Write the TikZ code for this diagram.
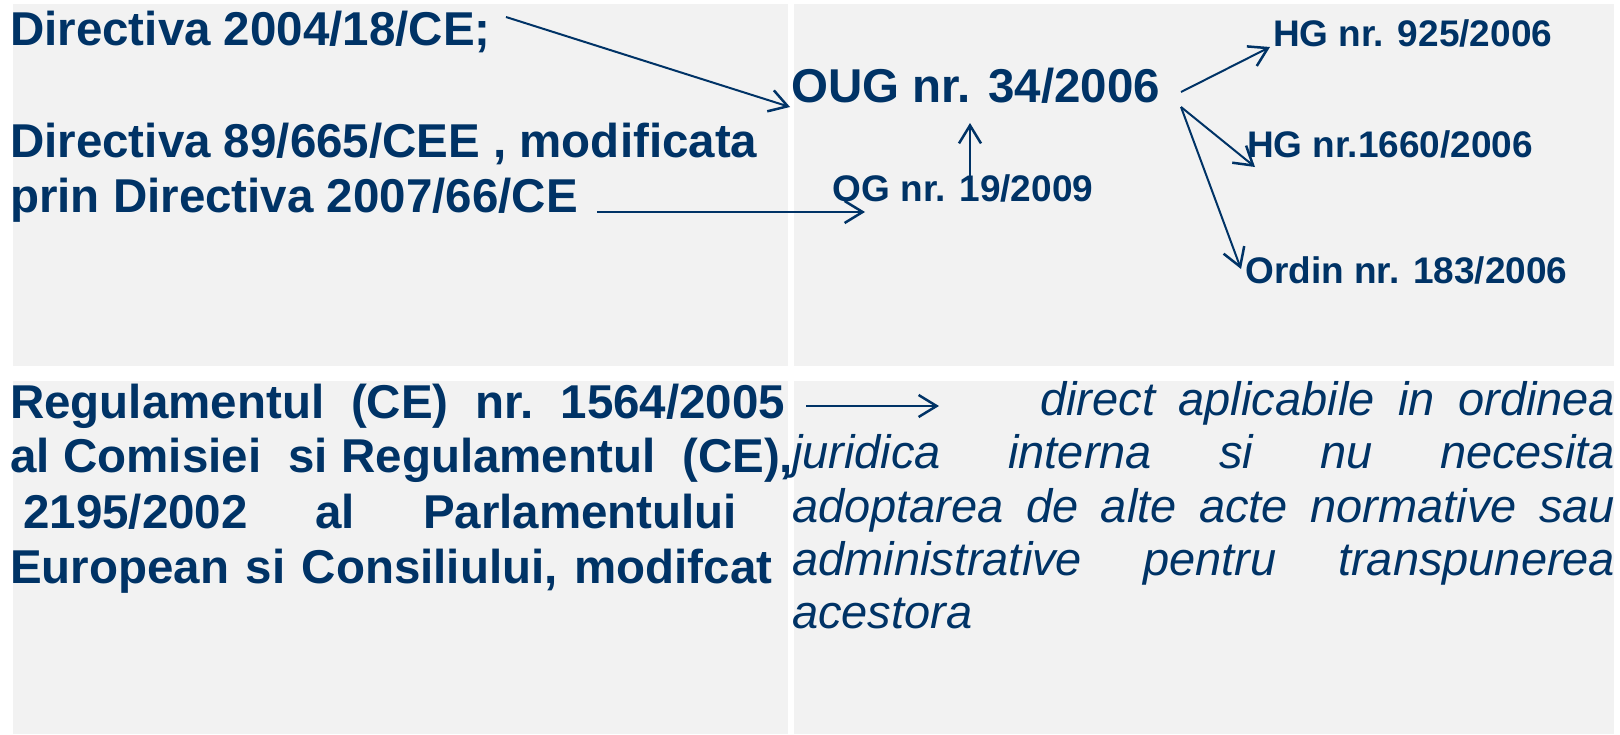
\documentclass[tikz,border=0pt]{standalone}
\usepackage{fontspec}
\setmainfont{Liberation Sans}
\usetikzlibrary{arrows.meta}
\definecolor{navy}{RGB}{0,51,102}
\definecolor{cellgray}{RGB}{242,242,242}
\begin{document}
\begin{tikzpicture}[x=1pt,y=-1pt,
  cell/.style={fill=cellgray,draw=none},
  big/.style={inner sep=0pt,anchor=base west,text=navy,font=\fontsize{47.5}{55}\selectfont\bfseries},
  small/.style={inner sep=0pt,anchor=base west,text=navy,font=\fontsize{37}{44}\selectfont\bfseries},
  ital/.style={inner sep=0pt,anchor=base west,text=navy,font=\fontsize{47}{54}\selectfont\itshape},
  link/.style={draw=navy,line width=2pt,-{Straight Barb[length=18pt,width=22pt,line width=2.5pt]}}]
\useasboundingbox (0,0) rectangle (1620,734);
\clip (0,0) rectangle (1620,734);
\fill[white] (0,0) rectangle (1620,734);
% cells
\fill[cell] (13,4) rectangle (788,366);
\fill[cell] (794,4) rectangle (1614,366);
\fill[cell] (13,381) rectangle (788,734);
\fill[cell] (794,381) rectangle (1614,734);
% top-left texts
\node[big] (d1) at (10,45) {Directiva 2004/18/CE;};
\node[big] (d2) at (10,157) {Directiva 89/665/CEE , modificata};
\node[big] (d3) at (10,212) {prin Directiva 2007/66/CE};
% top-right texts
\node[big] (oug) at (791,102) {OUG nr. 34/2006};
\node[small] (og) at (832.5,201) {OG nr. 19/2009};
\node[small] (hga) at (1273,46) {HG nr. 925/2006};
\node[small] (hgb) at (1247,157) {HG nr.1660/2006};
\node[small] (ord) at (1245,283) {Ordin nr. 183/2006};
% bottom-left text
\node[big] (r1) at (10,418) {\hbox to 775pt{Regulamentul\hfill(CE)\hfill nr.\hfill 1564/2005}};
\node[big] (r2) at (10,472) {\hbox to 783pt{al\hfill Comisiei\hfill\hfill si\hfill Regulamentul\hfill\hfill(CE),}};
\node[big] (r3) at (10,528) {\hbox to 727pt{\hskip13pt 2195/2002\hfill al\hfill Parlamentului}};
\node[big] (r4) at (10,583) {\hbox to 762pt{European\hfill si\hfill Consiliului,\hfill modifcat}};
% bottom-right text
\node[ital] (j1) at (1040,415) {\hbox to 575pt{direct\hfill aplicabile\hfill in\hfill ordinea}};
\node[ital] (j2) at (792,468) {\hbox to 823pt{juridica\hfill interna\hfill si\hfill nu\hfill necesita}};
\node[ital] (j3) at (792,522) {\hbox to 823pt{adoptarea\hfill de\hfill alte\hfill acte\hfill normative\hfill sau}};
\node[ital] (j4) at (792,575) {\hbox to 823pt{administrative\hfill pentru\hfill transpunerea}};
\node[ital] (j5) at (792,628) {acestora};
% connector ends
\coordinate (a1s) at (506,17);   \coordinate (a1e) at (790,107);
\coordinate (a2s) at (597,212);  \coordinate (a2e) at (865,212);
\coordinate (a3s) at (970,177);  \coordinate (a3e) at (970,123);
\coordinate (a4s) at (1181,92);  \coordinate (a4e) at (1270,47);
\coordinate (a5s) at (1181,107); \coordinate (a5e) at (1255,167);
\coordinate (a6e) at (1241,269);
\coordinate (a7s) at (806,406);  \coordinate (a7e) at (939,406);
\draw[link] (a1s) -- (a1e);
\draw[link] (a2s) -- (a2e);
\draw[link] (a3s) -- (a3e);
\draw[link] (a4s) -- (a4e);
\draw[link] (a5s) -- (a5e);
\draw[link] (a5s) -- (a6e);
\draw[link] (a7s) -- (a7e);
\end{tikzpicture}
\end{document}
